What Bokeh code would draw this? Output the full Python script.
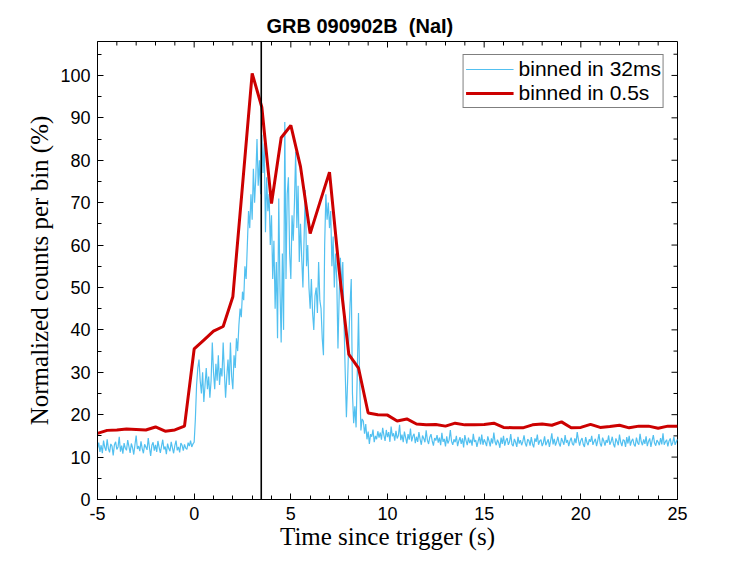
import numpy as np
from bokeh.plotting import figure
from bokeh.models import (Range1d, FixedTicker, Span, Legend, LegendItem,
                          ColumnDataSource)
from bokeh.embed import file_html
from bokeh.resources import INLINE

# ---------------- data ----------------
title_text = "GRB 090902B\u00a0\u00a0(NaI)"
x_label = "Time since trigger (s)"
y_label = "Normalized counts per bin (%)"
legend_labels = ["binned in 32ms", "binned in 0.5s"]

x_ticks = [-5, 0, 5, 10, 15, 20, 25]
x_minor_ticks = list(range(-5, 26))
y_ticks = [0, 10, 20, 30, 40, 50, 60, 70, 80, 90, 100]
y_minor_ticks = list(range(0, 109, 5))
x_limits = [-5, 25]
y_limits = [0, 108]
trigger_line_t = 3.47

# fine-binned light curve (read on a 1/16 s grid)
fine_step = 0.0625
fine_pre = [
    12.1, 13.4, 11.2, 12.8, 10.9, 13.9, 12.3, 11.5, 14.2, 12.0,
    11.1, 13.1, 12.6, 10.4, 12.9, 13.6, 11.8, 12.4, 14.8, 11.3,
    12.7, 10.8, 13.3, 12.1, 11.6, 14.0, 12.5, 11.0, 13.2, 12.2,
    10.6, 12.9, 15.1, 11.9, 12.6, 11.4, 13.7, 12.0, 10.9, 13.0,
    12.4, 11.7, 14.5, 12.2, 10.3, 12.8, 13.5, 11.5, 12.9, 11.2,
    13.8, 12.3, 11.0, 12.6, 14.1, 11.8, 12.5, 10.7, 13.2, 12.0,
    11.4, 13.6, 12.2, 10.9, 12.7, 13.9, 11.6, 12.4, 11.1, 13.3,
    12.8, 11.5, 13.0, 12.1, 11.8, 13.4, 12.6, 13.9, 12.4, 13.1,
]
fine_burst = [
    13.5, 19, 27, 31, 33, 28, 25, 30, 23, 27,
    31, 26, 29, 24, 28, 37, 30, 26, 32, 28,
    34, 27, 31, 29, 37, 30, 24, 29, 33, 27,
    37, 29, 26, 34, 31, 38, 35, 41, 45, 43,
    49, 47, 55, 52, 60, 68, 64, 72, 66, 78,
    70, 76, 85, 74, 80, 72, 86, 77, 84, 63,
    76, 68, 72, 60, 67, 52, 61, 45, 56, 38,
    71, 50, 37, 58, 40, 89, 52, 72, 76, 58,
    52, 67, 61, 70, 82, 64, 74, 56, 65, 57,
    50, 62, 73, 55, 60, 50, 45, 52, 44, 40,
    48, 50, 44, 56, 47, 45, 38, 34, 60, 72,
    66, 70, 64, 68, 55, 62, 50, 58, 52, 35.6,
    48, 57, 50, 56, 42, 30, 19.4, 28, 38, 46,
    52, 25, 18, 22, 17, 30, 44, 28, 16.3, 19,
    18.5, 15.5, 17.8, 14.2, 16.0, 13.1, 15.4, 14.8, 16.5, 13.5,
    15.0, 14.2, 16.1, 14.6,
]
fine_post = [
    15.8, 14.1, 16.9, 15.2, 13.8, 16.4, 14.7, 15.9, 13.6, 17.2,
    14.9, 15.6, 13.9, 16.2, 14.4, 15.1, 17.6, 14.0, 15.3, 13.5,
    16.0, 14.6, 13.2, 15.4, 14.1, 16.7, 13.7, 14.9, 15.5, 13.3,
    14.8, 13.6, 15.9, 14.2, 12.9, 15.1, 14.4, 13.5, 16.3, 14.0,
    13.1, 14.7, 15.4, 13.8, 12.7, 14.5, 13.9, 15.2, 13.4, 14.6,
    12.8, 15.7, 13.6, 14.3, 12.5, 14.9, 13.2, 14.0, 16.4, 13.7,
    12.9, 14.2, 13.5, 15.0, 12.6, 13.8, 14.7, 13.1, 14.4, 12.3,
    15.2, 13.9, 12.8, 14.6, 13.3, 14.1, 12.7, 15.5, 13.6, 14.0,
    12.4, 13.7, 14.8, 13.0, 15.3, 12.9, 14.2, 13.5, 12.6, 14.9,
    13.8, 12.5, 14.4, 13.2, 15.8, 13.6, 12.8, 14.1, 13.4, 12.2,
    14.6, 13.1, 15.0, 12.7, 13.9, 14.5, 12.9, 13.6, 15.4, 13.0,
    12.6, 14.3, 13.5, 12.4, 14.8, 13.2, 14.0, 12.8, 13.7, 15.1,
    13.3, 12.5, 14.2, 13.9, 12.7, 14.7, 13.1, 12.3, 14.4, 13.6,
    15.3, 12.9, 13.8, 14.1, 12.6, 13.4, 14.9, 12.8, 13.5, 14.2,
    12.4, 13.9, 15.6, 13.0, 14.3, 12.7, 13.6, 14.8, 13.2, 12.5,
    14.5, 13.7, 12.9, 15.2, 13.4, 14.0, 12.6, 13.8, 14.6, 13.1,
    12.8, 14.4, 13.3, 15.9, 14.1, 12.7, 13.9, 14.5, 13.0, 12.4,
    14.7, 13.5, 12.8, 14.2, 13.6, 15.0, 12.9, 13.7, 14.3, 12.6,
    13.9, 15.4, 13.2, 12.5, 14.6, 13.8, 12.7, 14.0, 13.4, 15.1,
    12.9, 13.6, 14.8, 13.1, 12.3, 14.4, 13.7, 12.8, 15.3, 13.5,
    12.6, 14.1, 13.9, 12.4, 14.7, 13.2, 15.0, 12.7, 13.8, 14.3,
    13.0, 12.5, 14.6, 13.4, 12.9, 15.5, 13.6, 12.8, 14.2, 13.1,
    14.9, 12.6, 13.7, 14.4, 12.4, 13.9, 15.2, 13.3, 12.7, 14.0,
    13.5, 12.8, 14.5, 13.0, 15.6, 12.9, 13.6, 14.1, 12.5, 13.8,
    14.4, 12.7, 13.3, 14.8, 12.9, 13.6, 14.2,
]
fine_values = fine_pre + fine_burst + fine_post
fine_time = [-5 + fine_step * i for i in range(len(fine_values))]

# coarse-binned light curve (0.5 s)
coarse_time = [-5 + 0.5 * i for i in range(61)]
coarse_values = [
    15.6, 16.3, 16.4, 16.6, 16.5, 16.4, 17.1, 16.1, 16.4, 17.3,
    35.5, 37.6, 39.7, 40.8, 47.8, 74.0, 100.5, 92.5, 69.8, 85.3,
    88.2, 78.5, 62.7, 70.0, 77.2, 54.0, 34.2, 31.0, 20.4, 20.0,
    19.9, 18.5, 19.0, 17.8, 17.6, 17.7, 17.3, 18.0, 17.6, 17.6,
    17.7, 18.0, 17.0, 16.9, 16.9, 17.6, 17.8, 17.5, 18.3, 16.9,
    17.0, 17.7, 17.0, 17.2, 17.5, 16.9, 17.3, 17.3, 16.8, 17.3,
    17.3,
]

blue = "#52C0F0"
red = "#CC0000"

# ---------------- figure ----------------
BL, BR, BT, BB = 97, 62, 41, 54
W, H = 739, 553
p = figure(width=W, height=H, output_backend="svg", toolbar_location=None,
           x_range=Range1d(*x_limits), y_range=Range1d(*y_limits),
           min_border_left=BL, min_border_right=BR, min_border_top=BT,
           min_border_bottom=BB, background_fill_color="white",
           border_fill_color="white")
p.grid.visible = False
p.outline_line_color = "black"
p.outline_line_width = 1

# title
p.title.text = title_text
p.title.text_font = "Liberation Sans"
p.title.text_font_size = "20px"
p.title.text_font_style = "bold"
p.title.text_color = "black"
p.title.align = "left"
p.title.offset = 169
p.title.standoff = 9

src_f = ColumnDataSource(dict(t=fine_time, v=fine_values))
src_c = ColumnDataSource(dict(t=coarse_time, v=coarse_values))
r_fine = p.line("t", "v", source=src_f, line_color=blue, line_width=1.2)
r_coarse = p.line("t", "v", source=src_c, line_color=red, line_width=3)

p.add_layout(Span(location=trigger_line_t, dimension="height",
                  line_color="black", line_width=1.6))

xt = FixedTicker(ticks=x_ticks, minor_ticks=x_minor_ticks)
yt = FixedTicker(ticks=y_ticks, minor_ticks=y_minor_ticks)

for ax in (p.xaxis[0], p.yaxis[0]):
    ax.axis_line_color = "black"
    ax.axis_line_width = 1
    ax.major_tick_line_color = "black"
    ax.minor_tick_line_color = "black"
    ax.major_tick_in = 6
    ax.major_tick_out = 0
    ax.minor_tick_in = 4
    ax.minor_tick_out = 0
    ax.major_label_text_font = "Liberation Sans"
    ax.major_label_text_font_size = "18px"
    ax.major_label_text_color = "black"
    ax.major_label_standoff = 7
    ax.axis_label_text_font = "Liberation Serif"
    ax.axis_label_text_font_size = "25px"
    ax.axis_label_text_font_style = "normal"
    ax.axis_label_text_color = "black"

xa = p.xaxis[0]
xa.ticker = xt
xa.axis_label = x_label
xa.axis_label_standoff = 0
xa.major_label_overrides = {t: str(t) for t in x_ticks}

ya = p.yaxis[0]
ya.ticker = yt
ya.axis_label = y_label
ya.axis_label_standoff = 4

# mirrored inward ticks on the top and right edges of the box
fw = W - BL - BR
fh = H - BT - BB
ux = (x_limits[1] - x_limits[0]) / fw   # data units per pixel (x)
uy = (y_limits[1] - y_limits[0]) / fh   # data units per pixel (y)
xmin = [t for t in x_minor_ticks if t not in x_ticks]
ymin = [t for t in y_minor_ticks if t not in y_ticks]
p.segment(x0=x_ticks, x1=x_ticks, y0=[y_limits[1]] * len(x_ticks),
          y1=[y_limits[1] - 6 * uy] * len(x_ticks), line_color="black",
          line_width=1)
p.segment(x0=xmin, x1=xmin, y0=[y_limits[1]] * len(xmin),
          y1=[y_limits[1] - 4 * uy] * len(xmin), line_color="black",
          line_width=1)
p.segment(x0=[x_limits[1]] * len(y_ticks),
          x1=[x_limits[1] - 6 * ux] * len(y_ticks),
          y0=y_ticks, y1=y_ticks, line_color="black", line_width=1)
p.segment(x0=[x_limits[1]] * len(ymin),
          x1=[x_limits[1] - 4 * ux] * len(ymin),
          y0=ymin, y1=ymin, line_color="black", line_width=1)

legend = Legend(items=[LegendItem(label=legend_labels[0], renderers=[r_fine]),
                       LegendItem(label=legend_labels[1], renderers=[r_coarse])],
                location="top_right", margin=13, padding=2, spacing=0,
                label_text_font="Liberation Sans", label_text_font_size="21px",
                label_text_line_height=0.9,
                label_text_color="black", glyph_width=48, glyph_height=18,
                label_height=18, label_standoff=5,
                border_line_color="black", border_line_width=1,
                background_fill_color="white", background_fill_alpha=1)
p.add_layout(legend)

open("out.html", "w").write(file_html(p, INLINE))
